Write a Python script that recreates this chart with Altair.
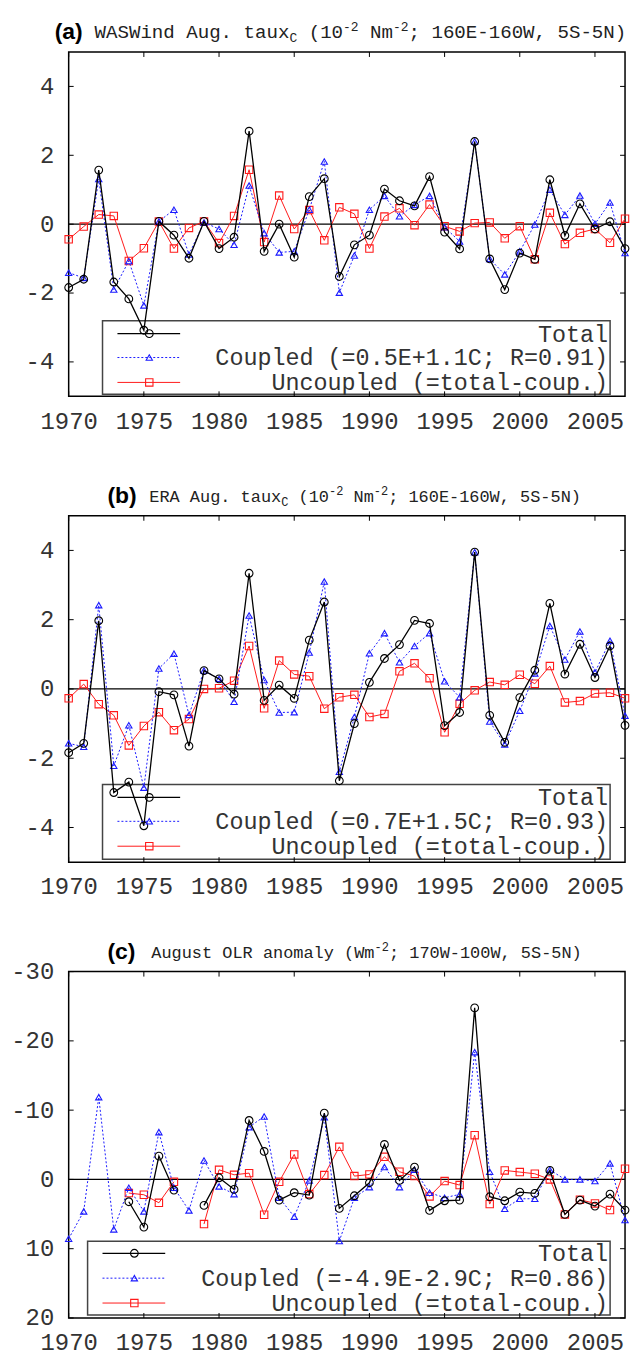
import altair as alt
import pandas as pd

YEARS = list(range(1970, 2008))

A_TOTAL = [-1.84, -1.60, 1.57, -1.68, -2.17, -3.08, 0.08, -0.32, -0.99, 0.08, -0.71, -0.38, 2.70, -0.79, 0.00, -0.96, 0.80, 1.32, -1.52,
           -0.60, -0.32, 1.02, 0.68, 0.53, 1.38, -0.23, -0.72, 2.40, -1.01, -1.90, -0.84, -1.02, 1.29, -0.33, 0.59, -0.14, 0.07, -0.71]
A_COUP = [-1.41, -1.56, 1.31, -1.90, -1.07, -2.36, 0.08, 0.42, -0.88, 0.05, -0.14, -0.60, 1.12, -0.26, -0.82, -0.79, 0.42, 1.82, -1.99,
          -0.91, 0.42, 0.82, 0.23, 0.56, 0.82, -0.09, -0.50, 2.40, -1.01, -1.46, -0.79, -0.01, 1.00, 0.27, 0.83, 0.01, 0.63, -0.84]
A_UNC = [-0.44, -0.07, 0.28, 0.24, -1.07, -0.70, 0.08, -0.71, -0.11, 0.08, -0.55, 0.24, 1.58, -0.52, 0.83, -0.14, 0.41, -0.47, 0.49,
         0.30, -0.71, 0.22, 0.46, -0.03, 0.57, -0.06, -0.21, 0.03, 0.05, -0.41, -0.06, -1.02, 0.33, -0.58, -0.25, -0.14, -0.54, 0.16]

B_TOTAL = [-1.84, -1.57, 1.97, -2.99, -2.69, -3.95, -0.08, -0.17, -1.65, 0.53, 0.29, -0.15, 3.34, -0.33, 0.11, -0.27, 1.41, 2.51, -2.65,
           -1.00, 0.19, 0.88, 1.28, 1.98, 1.89, -1.06, -0.68, 3.95, -0.76, -1.54, -0.25, 0.54, 2.47, 0.43, 1.29, 0.33, 1.24, -1.05]
B_COUP = [-1.57, -1.67, 2.42, -2.22, -1.05, -2.85, 0.59, 1.02, -0.75, 0.53, 0.29, -0.37, 2.12, 0.26, -0.68, -0.67, 1.05, 3.10, -2.39,
          -0.81, 1.03, 1.61, 0.77, 1.24, 1.61, 0.22, -0.24, 3.95, -0.94, -1.60, -0.63, 0.45, 1.82, 0.85, 1.66, 0.48, 1.39, -0.77]
B_UNC = [-0.27, 0.14, -0.44, -0.76, -1.63, -1.07, -0.67, -1.19, -0.87, 0.00, 0.02, 0.24, 1.24, -0.56, 0.82, 0.42, 0.37, -0.57, -0.24,
         -0.17, -0.81, -0.72, 0.51, 0.74, 0.31, -1.25, -0.43, -0.04, 0.20, 0.12, 0.41, 0.15, 0.66, -0.39, -0.35, -0.13, -0.11, -0.27]

C_TOTAL = [None, None, None, None, 3.22, 6.88, -3.37, 1.54, None, 3.75, -0.24, 1.44, -8.51, -4.04, 2.98, 1.92, 2.26, -9.57, 4.18,
           2.36, 0.48, -5.05, 0.14, -1.78, 4.47, 3.08, 2.98, -24.76, 2.50, 3.08, 1.83, 2.02, -1.30, 5.05, 2.98, 3.85, 2.12, 4.42]
C_COUP = [8.56, 4.62, -11.88, 7.21, 1.20, 4.62, -6.83, 1.20, 4.47, -2.74, 1.01, 2.12, -7.55, -9.09, 2.64, 5.38, 0.14, -8.99, 8.89,
          2.64, 1.11, -1.78, 1.11, -1.39, 1.92, 2.64, 2.16, -18.37, -1.11, 4.23, 2.79, 2.79, -1.39, 0.00, 0.00, 0.24, -2.31, 5.87]
C_UNC = [None, None, None, None, 1.97, 2.21, 3.37, 0.34, None, 6.44, -1.39, -0.67, -0.91, 5.10, 0.34, -3.61, 2.12, -0.63, -4.71,
         -0.48, -0.72, -3.27, -1.11, -0.48, 2.45, 0.24, 0.82, -6.39, 3.56, -1.30, -1.06, -0.82, 0.00, 5.05, 2.93, 3.46, 4.42, -1.54]

X_TICKS = [1970, 1975, 1980, 1985, 1990, 1995, 2000, 2005]
Y_TICKS_AB = [-4, -2, 0, 2, 4]
Y_TICKS_C = [-30, -20, -10, 0, 10, 20]

LEG_A = ["Total", "Coupled (=0.5E+1.1C; R=0.91)", "Uncoupled (=total-coup.)"]
LEG_B = ["Total", "Coupled (=0.7E+1.5C; R=0.93)", "Uncoupled (=total-coup.)"]
LEG_C = ["Total", "Coupled (=-4.9E-2.9C; R=0.86)", "Uncoupled (=total-coup.)"]

TITLE_A = ("(a)", [("WASWind Aug. taux", "n"), ("C", "sub"), (" (10", "n"), ("-2", "sup"), (" Nm", "n"), ("-2", "sup"),
                   ("; 160E-160W, 5S-5N)", "n")])
TITLE_B = ("(b)", [("ERA Aug. taux", "n"), ("C", "sub"), (" (10", "n"), ("-2", "sup"), (" Nm", "n"), ("-2", "sup"),
                   ("; 160E-160W, 5S-5N)", "n")])
TITLE_C = ("(c)", [("August OLR anomaly (Wm", "n"), ("-2", "sup"), ("; 170W-100W, 5S-5N)", "n")])

MONO = "Liberation Mono"
W = 559
DUMMY = pd.DataFrame({"k": [0]})


def series_frame(vals):
    rows = []
    seg = 0
    for y, v in zip(YEARS, vals):
        if v is None:
            seg += 1
            continue
        rows.append({"year": y, "v": v, "seg": seg})
    return pd.DataFrame(rows)


def panel(tot, cou, unc, H, ydom, yticks, reverse, legend, title, leg_box, leg_line, tfont, tx_label, tx_text):
    xs = alt.Scale(domain=[1970, 2007], nice=False, zero=False)
    ys = alt.Scale(domain=ydom, nice=False, zero=False, reverse=reverse)
    xax = alt.Axis(values=X_TICKS, format="d", title=None, ticks=False, domain=False, grid=False,
                   labelFont=MONO, labelFontSize=24, labelColor="#333", labelPadding=13,
                   labelFlush=False, labelOverlap=False)
    yax = alt.Axis(values=yticks, title=None, ticks=False, domain=False, grid=False,
                   labelFont=MONO, labelFontSize=24, labelColor="#333", labelPadding=15,
                   labelOverlap=False, labelExpr="'' + datum.value")
    X = alt.X("year:Q", scale=xs, axis=xax)
    Y = alt.Y("v:Q", scale=ys, axis=yax)

    layers = []
    # legend box (underneath data)
    bx0, bx1, by0, by1 = leg_box
    layers.append(alt.Chart(DUMMY).mark_rect(fill="white", stroke="#444", strokeWidth=1.5).encode(
        x=alt.value(bx0), x2=alt.value(bx1), y=alt.value(by0), y2=alt.value(by1)))
    # zero line
    layers.append(alt.Chart(pd.DataFrame({"v": [0]})).mark_rule(color="black", strokeWidth=1.2).encode(y=Y))
    # inward ticks
    xt = pd.DataFrame({"year": X_TICKS})
    yt = pd.DataFrame({"v": yticks})
    layers.append(alt.Chart(xt).mark_rule(color="black", strokeWidth=1).encode(x=X, y=alt.value(0), y2=alt.value(5)))
    layers.append(alt.Chart(xt).mark_rule(color="black", strokeWidth=1).encode(x=X, y=alt.value(H - 5), y2=alt.value(H)))
    layers.append(alt.Chart(yt).mark_rule(color="black", strokeWidth=1).encode(y=Y, x=alt.value(0), x2=alt.value(5)))
    layers.append(alt.Chart(yt).mark_rule(color="black", strokeWidth=1).encode(y=Y, x=alt.value(W - 5), x2=alt.value(W)))

    styles = [
        (unc, "#ff1a1a", None, "square", 55, 1.0),
        (cou, "#1a1aff", [2, 2], "triangle-up", 40, 1.0),
        (tot, "black", None, "circle", 60, 1.3),
    ]
    for vals, col, dash, shape, size, sw in styles:
        df = series_frame(vals)
        lk = dict(color=col, strokeWidth=sw)
        if dash:
            lk["strokeDash"] = dash
        layers.append(alt.Chart(df).mark_line(**lk).encode(x=X, y=Y, detail="seg:N"))
        layers.append(alt.Chart(df).mark_point(shape=shape, filled=False, color=col, size=size, strokeWidth=1.1,
                                               opacity=1).encode(x=X, y=Y))

    # legend entries
    lx0, lx1, lm, rows = leg_line
    leg_styles = [
        ("black", None, "circle", 60, 1.3),
        ("#1a1aff", [2, 2], "triangle-up", 40, 1.0),
        ("#ff1a1a", None, "square", 55, 1.0),
    ]
    for (col, dash, shape, size, sw), label, ry in zip(leg_styles, legend, rows):
        rk = dict(color=col, strokeWidth=sw)
        if dash:
            rk["strokeDash"] = dash
        layers.append(alt.Chart(DUMMY).mark_rule(**rk).encode(x=alt.value(lx0), x2=alt.value(lx1), y=alt.value(ry)))
        layers.append(alt.Chart(DUMMY).mark_point(shape=shape, filled=False, color=col, size=size, strokeWidth=1.1,
                                                  opacity=1).encode(x=alt.value(lm), y=alt.value(ry)))
        layers.append(alt.Chart(DUMMY).mark_text(font=MONO, fontSize=23.5, color="#333", align="right",
                                                 baseline="middle").encode(
            x=alt.value(bx1 - 2), y=alt.value(ry + 1), text=alt.value(label)))

    # title
    label, pieces = title
    fs_n, fs_s, base = tfont
    layers.append(alt.Chart(DUMMY).mark_text(font="Liberation Sans", fontWeight="bold", fontSize=23, color="black",
                                             align="left", baseline="alphabetic").encode(
        x=alt.value(tx_label), y=alt.value(base + 1), text=alt.value(label)))
    cx = tx_text
    for txt, kind in pieces:
        fs = fs_n if kind == "n" else fs_s
        cw = 0.6 * fs
        lead = len(txt) - len(txt.lstrip(" "))
        cx += lead * cw
        body = txt.strip(" ")
        dy = 0 if kind == "n" else (4 if kind == "sub" else -7)
        layers.append(alt.Chart(DUMMY).mark_text(font=MONO, fontSize=fs, color="#222", align="left",
                                                 baseline="alphabetic").encode(
            x=alt.value(cx), y=alt.value(base + dy), text=alt.value(body)))
        cx += len(body) * cw

    return alt.layer(*layers).properties(width=W, height=H)


pa = panel(A_TOTAL, A_COUP, A_UNC, 346, [-5, 5], Y_TICKS_AB, False, LEG_A, TITLE_A,
           (34, 544, 270, 344), (49, 112, 81, [283, 307, 332]), (19.2, 13, -14.5), -14, 26)
pb = panel(B_TOTAL, B_COUP, B_UNC, 348, [-5, 5], Y_TICKS_AB, False, LEG_B, TITLE_B,
           (34, 544, 270, 345), (49, 112, 81, [283, 307, 332]), (17, 12, -14), 39, 81)
pc = panel(C_TOTAL, C_COUP, C_UNC, 348, [-30, 20], Y_TICKS_C, True, LEG_C, TITLE_C,
           (19, 544, 271, 345), (34, 97, 66, [283, 308, 333]), (17, 12, -14), 39, 83)

lower = alt.vconcat(pb, pc, spacing=110, bounds="flush")
chart = alt.vconcat(pa, lower, spacing=120, bounds="flush").configure_view(
    stroke="black", strokeWidth=1.5
).properties(
    padding={"left": 10, "top": 16, "right": 0, "bottom": 0},
    background="white",
)

chart.save("out.html", embed_options={"renderer": "svg", "actions": False})
